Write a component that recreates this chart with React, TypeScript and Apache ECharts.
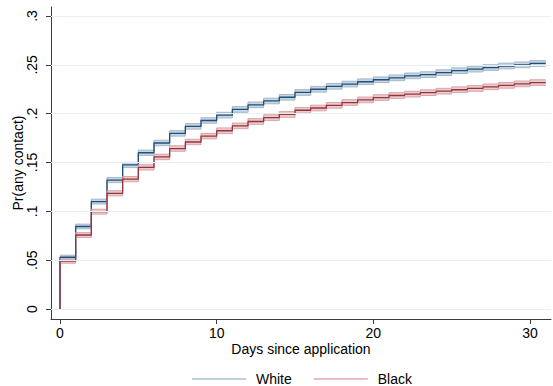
import React, { useEffect, useRef } from "react";
import * as echarts from "echarts";

// Days since application (step starts)
const days = [0, 1, 2, 3, 4, 5, 6, 7, 8, 9, 10, 11, 12, 13, 14, 15, 16, 17, 18, 19, 20, 21, 22, 23, 24, 25, 26, 27, 28, 29, 30];
const lastDay = 31;

// Pr(any contact) estimates
const white = [0.053, 0.0845, 0.11, 0.132, 0.1475, 0.16, 0.17, 0.1798, 0.187, 0.193, 0.1985, 0.2043, 0.209, 0.213, 0.2168, 0.2217, 0.225, 0.228, 0.2303, 0.2327, 0.2347, 0.2367, 0.2387, 0.24, 0.242, 0.244, 0.2456, 0.2472, 0.2488, 0.25, 0.2514];
const black = [0.049, 0.0758, 0.0997, 0.1185, 0.133, 0.145, 0.1557, 0.1643, 0.171, 0.177, 0.1825, 0.1875, 0.192, 0.196, 0.1992, 0.2035, 0.2058, 0.2085, 0.2114, 0.2141, 0.2165, 0.2186, 0.22, 0.2215, 0.223, 0.2245, 0.2258, 0.2275, 0.229, 0.2305, 0.2318];

// Confidence interval half-widths
const whiteCI = [0.0021, 0.0024, 0.0025, 0.0026, 0.0027, 0.0027, 0.0028, 0.0028, 0.0028, 0.0028, 0.0029, 0.0029, 0.0029, 0.0029, 0.0029, 0.0029, 0.0029, 0.0029, 0.0029, 0.0029, 0.0029, 0.0029, 0.0029, 0.0029, 0.0029, 0.0029, 0.0029, 0.0029, 0.0029, 0.0029, 0.0029];
const blackCI = [0.0021, 0.0024, 0.0025, 0.0026, 0.0027, 0.0027, 0.0028, 0.0028, 0.0028, 0.0028, 0.0029, 0.0029, 0.0029, 0.0029, 0.0029, 0.0029, 0.0029, 0.0029, 0.0029, 0.0029, 0.0029, 0.0029, 0.0029, 0.0029, 0.0029, 0.0029, 0.0029, 0.0029, 0.0029, 0.0029, 0.0029];

const yTicks = [0, 0.05, 0.1, 0.15, 0.2, 0.25, 0.3];
const xTicks = [0, 10, 20, 30];

const FONT = "Liberation Sans, Arial, Helvetica, sans-serif";

function centerPoints(v: number[]) {
  const pts: number[][] = [[0, 0]];
  days.forEach((d, i) => pts.push([d, v[i]]));
  pts.push([lastDay, v[v.length - 1]]);
  return pts;
}
function edgePoints(v: number[], ci: number[], sign: number) {
  const pts = days.map((d, i) => [d, v[i] + sign * ci[i]]);
  pts.push([lastDay, v[v.length - 1] + sign * ci[ci.length - 1]]);
  return pts;
}
function bandItems(v: number[], ci: number[]) {
  return days.map((d, i) => [d, i + 1 < days.length ? days[i + 1] : lastDay, v[i] - ci[i], v[i] + ci[i]]);
}

export default function App() {
  const ref = useRef<HTMLDivElement>(null);
  useEffect(() => {
    if (!ref.current) return;
    const chart = echarts.init(ref.current, null, { renderer: "svg" });
    const blueLine = "#1f4e79";
    const blueEdge = "#a3b7cb";
    const blueFill = "#c9d6e2";
    const redLine = "#93343c";
    const redEdge = "#d9a3a9";
    const redFill = "#eccbce";
    const edgeLine = (name: string, pts: number[][], color: string, extra: any = {}) => ({
      type: "line",
      name,
      step: "end",
      data: pts,
      showSymbol: false,
      symbol: "none",
      lineStyle: { color, width: 1 },
      itemStyle: { color },
      silent: true,
      ...extra,
    });
    const band = (name: string, v: number[], ci: number[], fill: string, legendColor: string) => ({
      type: "custom",
      name,
      data: bandItems(v, ci),
      encode: { x: [0, 1], y: [2, 3] },
      itemStyle: { color: legendColor },
      silent: true,
      renderItem: (params: any, api: any) => {
        const p0 = api.coord([api.value(0), api.value(3)]);
        const p1 = api.coord([api.value(1), api.value(2)]);
        return {
          type: "rect",
          shape: { x: p0[0] - 0.3, y: p0[1], width: p1[0] - p0[0] + 0.6, height: p1[1] - p0[1] },
          style: { fill },
        };
      },
    });
    chart.setOption({
      animation: false,
      backgroundColor: "#ffffff",
      textStyle: { fontFamily: FONT },
      grid: { left: 51, right: 2, top: 7, bottom: 67, containLabel: false, outerBoundsMode: "none" },
      legend: {
        data: ["White", "Black"],
        left: 192,
        top: 372,
        padding: 0,
        icon: "rect",
        itemWidth: 54,
        itemHeight: 1.5,
        itemGap: 22,
        textStyle: { fontFamily: FONT, fontSize: 14, color: "#000", padding: [0, 0, 0, 5] },
      },
      xAxis: {
        type: "value",
        min: -0.574,
        max: 31.34,
        name: "Days since application",
        nameLocation: "middle",
        nameGap: 23,
        nameMoveOverlap: false,
        nameTextStyle: { fontFamily: FONT, fontSize: 14, color: "#000" },
        axisLine: { onZero: false, lineStyle: { color: "#3c3c3c", width: 1 } },
        axisTick: { show: true, length: 5, customValues: xTicks, lineStyle: { color: "#3c3c3c" } },
        axisLabel: { customValues: xTicks, fontSize: 14, color: "#000", margin: 7, fontFamily: FONT },
        splitLine: { show: false },
      },
      yAxis: {
        type: "value",
        min: -0.0102,
        max: 0.3092,
        name: "Pr(any contact)",
        nameLocation: "middle",
        nameGap: 26,
        nameMoveOverlap: false,
        nameTextStyle: { fontFamily: FONT, fontSize: 14, color: "#000" },
        axisLine: { show: true, onZero: false, lineStyle: { color: "#3c3c3c", width: 1 } },
        axisTick: { show: true, length: 5, customValues: yTicks, lineStyle: { color: "#3c3c3c" } },
        axisLabel: {
          customValues: yTicks,
          rotate: 90,
          fontSize: 14,
          color: "#000",
          margin: 12,
          fontFamily: FONT,
          formatter: (v: number) => (v === 0 ? "0" : String(Number(v.toFixed(2))).replace(/^0/, "")),
        },
        splitLine: { show: false },
      },
      series: [
        edgeLine("grid", [], "#e9f0f1", {
          markLine: {
            silent: true,
            symbol: "none",
            label: { show: false },
            lineStyle: { color: "#e9f0f1", width: 1, type: "solid" },
            data: yTicks.map((t) => ({ yAxis: t })),
          },
        }),
        band("White", white, whiteCI, blueFill, "#a9bfd4"),
        edgeLine("White-lo", edgePoints(white, whiteCI, -1), blueEdge),
        edgeLine("White-hi", edgePoints(white, whiteCI, 1), blueEdge),
        { ...edgeLine("White-est", centerPoints(white), blueLine), lineStyle: { color: blueLine, width: 1.3 } },
        band("Black", black, blackCI, redFill, "#e0a9b0"),
        edgeLine("Black-lo", edgePoints(black, blackCI, -1), redEdge),
        edgeLine("Black-hi", edgePoints(black, blackCI, 1), redEdge),
        { ...edgeLine("Black-est", centerPoints(black), redLine), lineStyle: { color: redLine, width: 1.3 } },
      ],
    });
    return () => chart.dispose();
  }, []);
  return <div ref={ref} style={{ width: 553, height: 386, position: "absolute", left: 0, top: 0 }} />;
}
